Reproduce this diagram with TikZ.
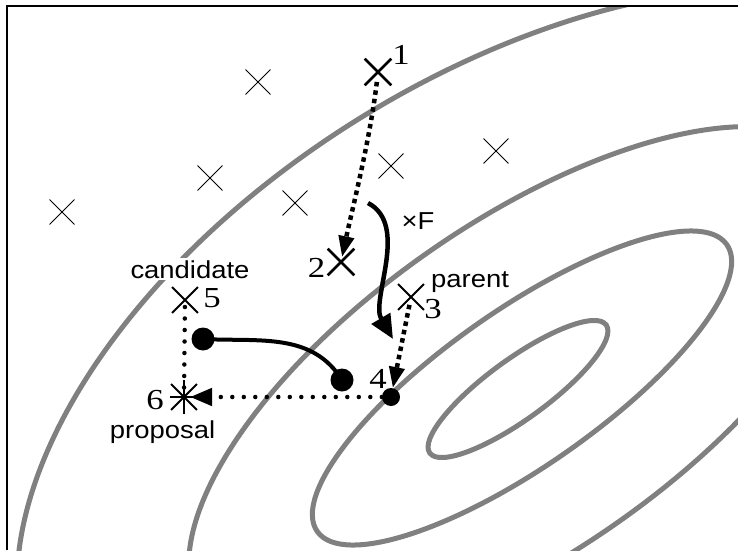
\documentclass[tikz,border=0pt]{standalone}
\usepackage{fontspec}
\usetikzlibrary{arrows.meta,shapes.misc}
\newfontfamily\sanslab[FakeStretch=1.12]{Liberation Sans}
\newfontfamily\seriflab[FakeStretch=1.2]{Liberation Serif}
\definecolor{contour}{gray}{0.5}
\begin{document}
\begin{tikzpicture}[x=1pt,y=1pt,
  lbl/.style={font=\sanslab\fontsize{24.5}{28}\selectfont, inner sep=0pt, anchor=base},
  num/.style={font=\seriflab\fontsize{29}{33}\selectfont, inner sep=0pt},
  smallx/.style={cross out, draw, minimum size=24pt, inner sep=0pt, line width=0.9pt},
  bigx/.style={cross out, draw, minimum size=24pt, inner sep=0pt, line width=2.6pt},
  midx/.style={cross out, draw, minimum size=24pt, inner sep=0pt, line width=1.8pt},
  contourline/.style={draw=contour, line width=5pt},
  sqdots/.style={line width=4.5pt, dash pattern=on 4.5pt off 4pt},
  rddots/.style={line width=4.5pt, line cap=round, dash pattern=on 0pt off 11.5pt},
  tipsq/.style={-{Triangle[length=21pt,width=15pt]}},
  tiprd/.style={-{Triangle[length=22pt,width=17pt]}},
  bigdot/.style={circle, fill=black, minimum size=23pt, inner sep=0pt},
  smalldot/.style={circle, fill=black, minimum size=18pt, inner sep=0pt},
]
\useasboundingbox (0,0) rectangle (738,550);
% contour lines
\begin{scope}
  \clip (7,0) rectangle (738,544);
  \draw[contourline, rotate around={36:(518,161)}] (518,161) ellipse (109 and 30);
  \draw[contourline, rotate around={35:(522,162)}] (522,162) ellipse (250 and 78);
  \draw[contourline, rotate around={35:(522,162)}] (522,162) ellipse (390 and 165);
  \draw[contourline, rotate around={32:(525,160)}] (525,160) ellipse (565 and 318);
\end{scope}
% frame
\draw[line width=1.3pt] (7,0) -- (7,544) -- (738,544);
% population crosses
\node[smallx] (s1) at (258,468) {};
\node[smallx] (s2) at (210,372) {};
\node[smallx] (s3) at (62,338) {};
\node[smallx] (s4) at (295,347) {};
\node[smallx] (s5) at (391,384) {};
\node[smallx] (s6) at (496,399) {};
% numbered points
\node[bigx] (c1) at (378,478) {};
\node[bigx] (c2) at (341,288) {};
\node[midx] (c3) at (411,253) {};
\node[midx] (c5) at (185,250) {};
\node[midx] (n6) at (184,153) {};
\draw[line width=1.6pt] ([yshift=17pt]n6.center) -- ([yshift=-17pt]n6.center);
\draw[line width=1.6pt] ([xshift=-14pt]n6.center) -- ([xshift=14pt]n6.center);
\node[smalldot] (p4) at (391,153) {};
% big dots and connecting curve
\node[bigdot] (d1) at (203,211) {};
\node[bigdot] (d2) at (342,170) {};
\draw[line width=4pt] (d1.center) to[out=-3,in=122] (d2.center);
% labels
\node[num] (l1) at (401,495) {1};
\node[num] (l2) at (316.5,282.5) {2};
\node[num] (l3) at (433,241) {3};
\node[num] (l4) at (378,171) {4};
\node[num] (l5) at (212,252) {5};
\node[num] (l6) at (155,150) {6};
\node[lbl, fill=white, inner sep=2pt] (lc) at (190,272) {candidate};
\node[lbl] (lp) at (162.5,112) {proposal};
\node[lbl] (lpa) at (470,263) {parent};
\node[lbl] (lF) at (418,321) {×F};
% connectors
\draw[sqdots, tipsq, shorten <=10pt, shorten >=5pt] (c1.center) .. controls (370,410) and (352,340) .. (c2.center);
\draw[sqdots, tipsq, shorten <=8pt] (c3.center) -- (p4);
\draw[rddots, tiprd, shorten >=6pt] (p4) -- (n6.center);
\draw[rddots, shorten <=7pt, shorten >=6pt] (c5.center) -- (n6.center);
\coordinate (fs) at (368,347);
\coordinate (fe) at (393,211);
\draw[line width=4.5pt, -{Triangle[length=24pt,width=21pt]}] (fs) .. controls (410,325) and (370,250) .. (fe);
\end{tikzpicture}
\end{document}
